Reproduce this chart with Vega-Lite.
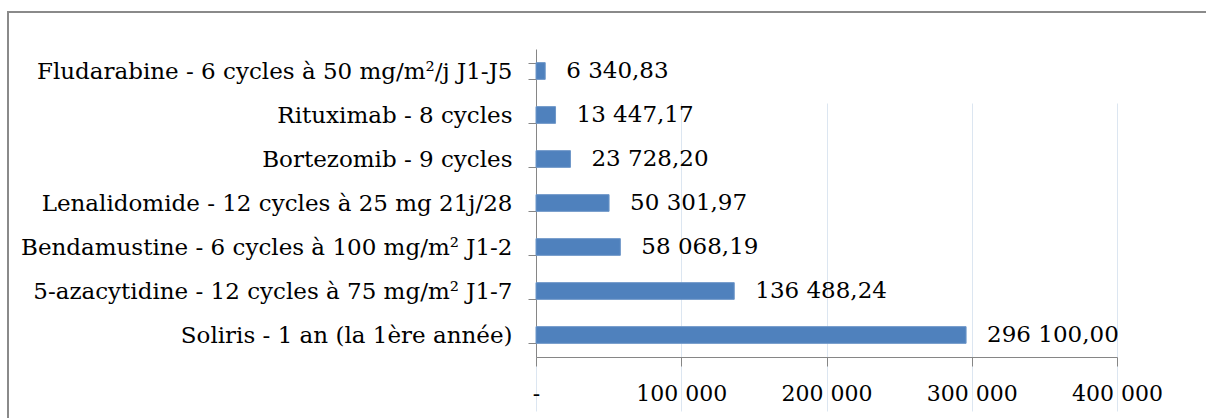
{
  "$schema": "https://vega.github.io/schema/vega-lite/v6.json",
  "autosize": {"type": "none"},
  "padding": {"left": 8, "top": 12, "right": -102, "bottom": -30},
  "width": 1300,
  "height": 436,
  "background": "white",
  "config": {
    "view": {"stroke": "#8a8a8a", "strokeWidth": 2},
    "locale": {"number": {"decimal": ",", "thousands": " ", "grouping": [3], "currency": ["", " €"]}},
    "font": "DejaVu Serif"
  },
  "data": {
    "values": [
      {"traitement": "Fludarabine - 6 cycles à 50 mg/m²/j J1-J5", "cout": 6340.83},
      {"traitement": "Rituximab - 8 cycles", "cout": 13447.17},
      {"traitement": "Bortezomib - 9 cycles", "cout": 23728.20},
      {"traitement": "Lenalidomide - 12 cycles à 25 mg 21j/28", "cout": 50301.97},
      {"traitement": "Bendamustine - 6 cycles à 100 mg/m² J1-2", "cout": 58068.19},
      {"traitement": "5-azacytidine - 12 cycles à 75 mg/m² J1-7", "cout": 136488.24},
      {"traitement": "Soliris - 1 an (la 1ère année)", "cout": 296100.00}
    ]
  },
  "encoding": {
    "y": {
      "field": "traitement",
      "type": "nominal",
      "sort": null,
      "scale": {"range": [37, 345], "paddingInner": 0.62, "paddingOuter": 0.31},
      "axis": {
        "title": null,
        "offset": -528,
        "tickBand": "extent",
        "tickSize": 8,
        "tickColor": "#868686",
        "domainColor": "#868686",
        "labelPadding": 16,
        "labelFontSize": 23,
        "labelColor": "#000000",
        "labelFont": "DejaVu Serif",
        "labelLimit": 600,
        "grid": false
      }
    },
    "x": {
      "field": "cout",
      "type": "quantitative",
      "scale": {"domain": [0, 400000], "range": [528, 1109], "nice": false},
      "axis": {
        "title": null,
        "offset": -91,
        "values": [0, 100000, 200000, 300000, 400000],
        "format": ",.0f",
        "labelExpr": "datum.value === 0 ? '-' : datum.label",
        "labelFlush": false,
        "tickSize": 9,
        "tickColor": "#868686",
        "domainColor": "#868686",
        "labelPadding": 17,
        "labelFontSize": 22,
        "labelColor": "#000000",
        "labelFont": "DejaVu Serif",
        "grid": true,
        "gridColor": "#dce6f1",
        "gridWidth": 1
      }
    }
  },
  "layer": [
    {
      "mark": {"type": "bar", "color": "#4f81bd", "stroke": "#6d96c8", "strokeWidth": 1}
    },
    {
      "mark": {"type": "text", "align": "left", "baseline": "middle", "dx": 21, "fontSize": 23, "font": "DejaVu Serif", "color": "#000000"},
      "encoding": {"text": {"field": "cout", "type": "quantitative", "format": ",.2f"}}
    }
  ]
}
